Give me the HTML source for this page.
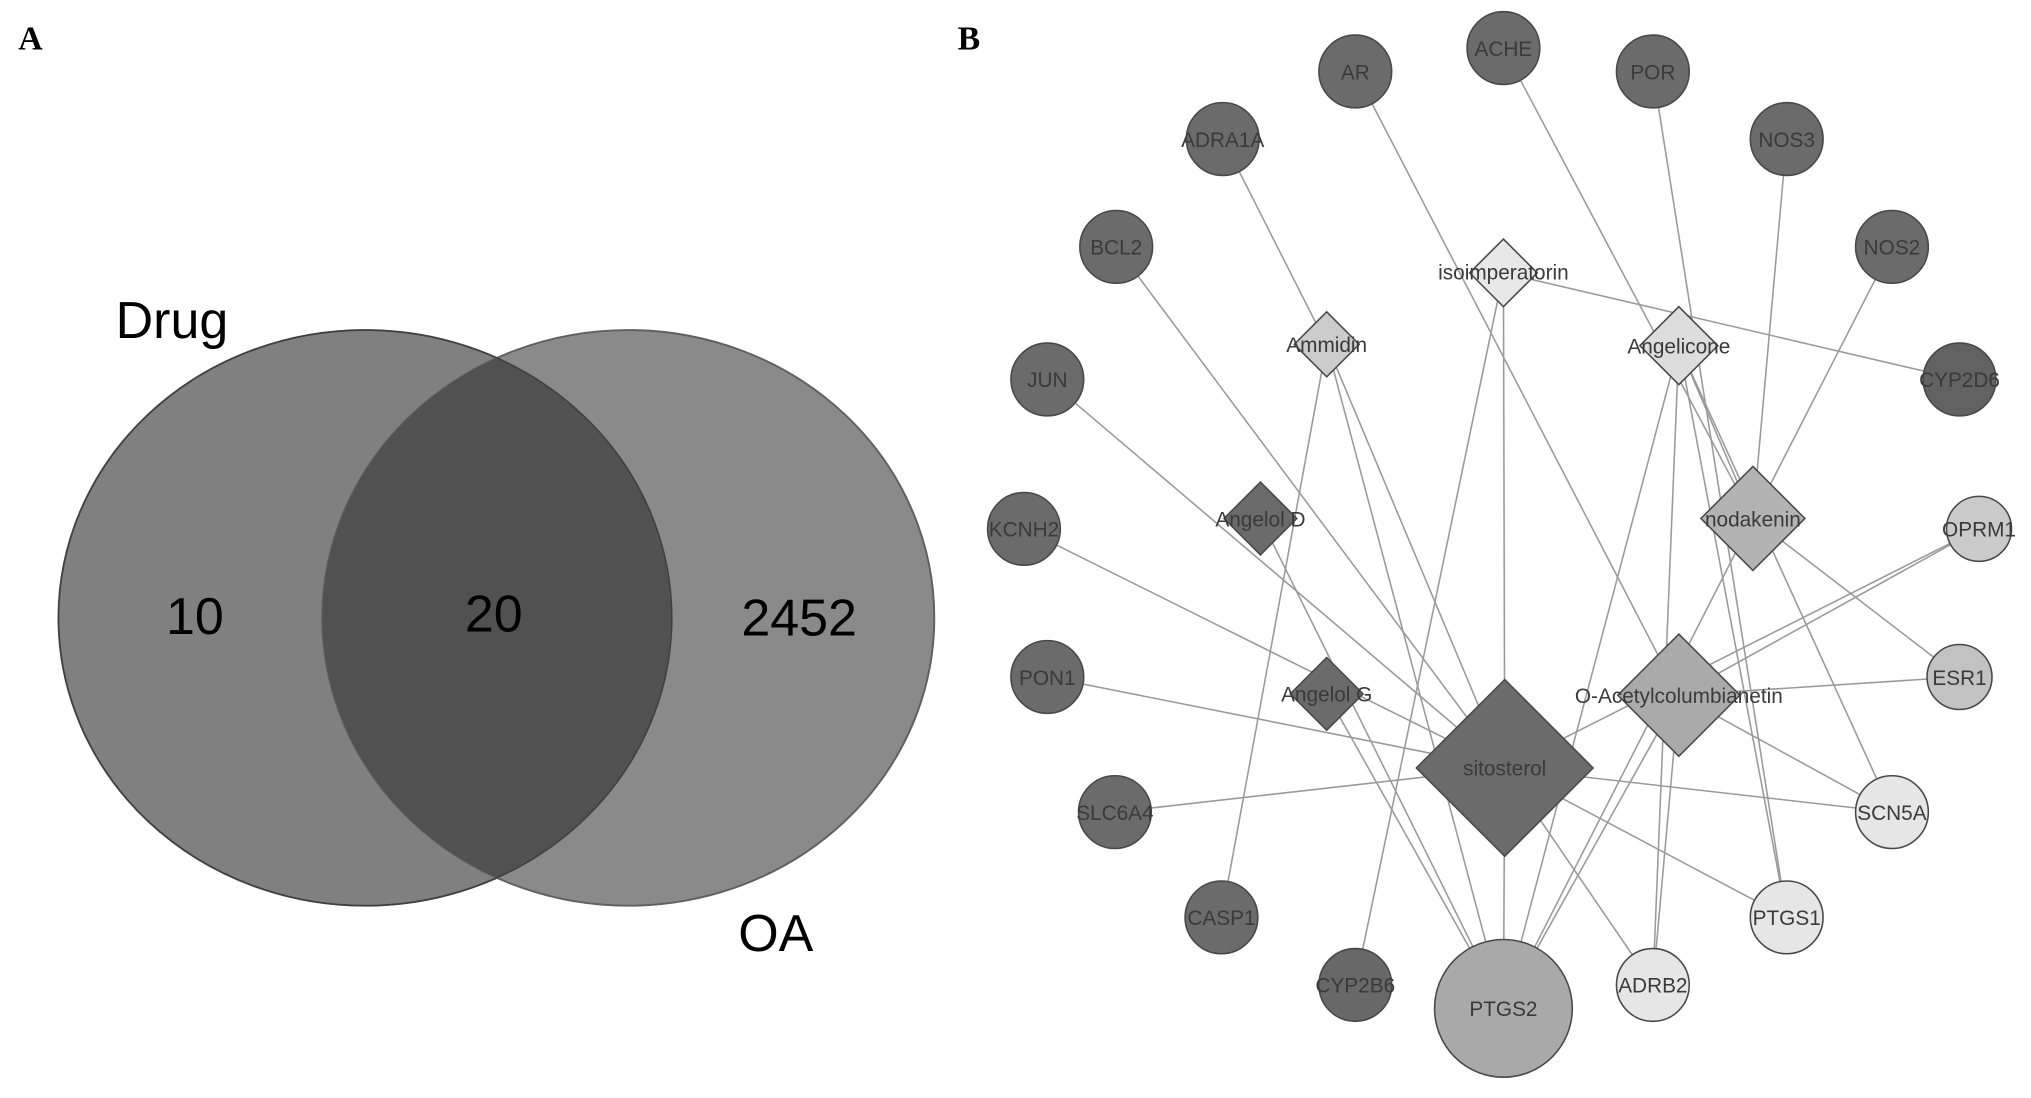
<!DOCTYPE html>
<html><head><meta charset="utf-8"><style>html,body{margin:0;padding:0;background:#fff}svg{display:block}</style></head>
<body>
<svg width="2031" height="1098" viewBox="0 0 1563 845" xmlns="http://www.w3.org/2000/svg">
<defs>
<clipPath id="cl"><ellipse cx="281" cy="475.5" rx="236" ry="221.5"/></clipPath>
</defs>
<text x="14" y="38" font-family="Liberation Serif, serif" font-weight="bold" font-size="26">A</text>
<text x="737" y="38" font-family="Liberation Serif, serif" font-weight="bold" font-size="26">B</text>
<ellipse cx="281" cy="475.5" rx="236" ry="221.5" fill="#808080" stroke="#606060" stroke-width="1.5"/>
<ellipse cx="483.5" cy="475.5" rx="235.5" ry="221.5" fill="#8a8a8a" stroke="#606060" stroke-width="1.5"/>
<ellipse cx="483.5" cy="475.5" rx="235.5" ry="221.5" fill="#515151" clip-path="url(#cl)"/>
<ellipse cx="281" cy="475.5" rx="236" ry="221.5" fill="none" stroke="#404040" stroke-width="1.2"/>
<g font-family="Liberation Sans, sans-serif" font-size="40" fill="#000">
<text x="89" y="260">Drug</text>
<text x="150" y="488" text-anchor="middle">10</text>
<text x="380" y="486" text-anchor="middle">20</text>
<text x="615" y="489" text-anchor="middle">2452</text>
<text x="597" y="732" text-anchor="middle">OA</text>
</g>
<g stroke="#9a9a9a" stroke-width="1.2">
<line x1="941" y1="107" x2="1021" y2="265"/>
<line x1="1043" y1="55" x2="1292" y2="535"/>
<line x1="1157" y1="37" x2="1349" y2="399"/>
<line x1="1272" y1="55" x2="1375" y2="706"/>
<line x1="1375" y1="107" x2="1349" y2="399"/>
<line x1="1456" y1="190" x2="1349" y2="399"/>
<line x1="1508" y1="292" x2="1157" y2="210"/>
<line x1="859" y1="190" x2="1158" y2="591"/>
<line x1="806" y1="292" x2="1158" y2="591"/>
<line x1="788" y1="407" x2="1158" y2="591"/>
<line x1="806" y1="521" x2="1158" y2="591"/>
<line x1="858" y1="625" x2="1158" y2="591"/>
<line x1="940" y1="706" x2="1021" y2="265"/>
<line x1="1043" y1="758" x2="1157" y2="210"/>
<line x1="1157" y1="776" x2="1158" y2="591"/>
<line x1="1157" y1="776" x2="1021" y2="265"/>
<line x1="1157" y1="776" x2="970" y2="399"/>
<line x1="1157" y1="776" x2="1021" y2="534"/>
<line x1="1157" y1="776" x2="1292" y2="266"/>
<line x1="1157" y1="776" x2="1349" y2="399"/>
<line x1="1157" y1="776" x2="1292" y2="535"/>
<line x1="1523" y1="407" x2="1292" y2="535"/>
<line x1="1523" y1="407" x2="1158" y2="591"/>
<line x1="1508" y1="521" x2="1349" y2="399"/>
<line x1="1508" y1="521" x2="1292" y2="535"/>
<line x1="1456" y1="625" x2="1158" y2="591"/>
<line x1="1456" y1="625" x2="1292" y2="266"/>
<line x1="1456" y1="625" x2="1292" y2="535"/>
<line x1="1375" y1="706" x2="1158" y2="591"/>
<line x1="1375" y1="706" x2="1292" y2="266"/>
<line x1="1272" y1="758" x2="1158" y2="591"/>
<line x1="1272" y1="758" x2="1292" y2="266"/>
<line x1="1272" y1="758" x2="1292" y2="535"/>
<line x1="1157" y1="210" x2="1158" y2="591"/>
<line x1="1021" y1="265" x2="1158" y2="591"/>
<line x1="1292" y1="266" x2="1349" y2="399"/>
</g>
<g stroke="#484848" stroke-width="1.2">
<circle cx="1043" cy="55" r="28" fill="#6b6b6b"/>
<circle cx="1157" cy="37" r="28" fill="#6b6b6b"/>
<circle cx="1272" cy="55" r="28" fill="#6b6b6b"/>
<circle cx="941" cy="107" r="28" fill="#6b6b6b"/>
<circle cx="1375" cy="107" r="28" fill="#6b6b6b"/>
<circle cx="859" cy="190" r="28" fill="#6b6b6b"/>
<circle cx="1456" cy="190" r="28" fill="#6b6b6b"/>
<circle cx="806" cy="292" r="28" fill="#6b6b6b"/>
<circle cx="1508" cy="292" r="28" fill="#626262"/>
<circle cx="788" cy="407" r="28" fill="#6b6b6b"/>
<circle cx="1523" cy="407" r="25" fill="#cacaca"/>
<circle cx="806" cy="521" r="28" fill="#6b6b6b"/>
<circle cx="1508" cy="521" r="25" fill="#c2c2c2"/>
<circle cx="858" cy="625" r="28" fill="#6b6b6b"/>
<circle cx="1456" cy="625" r="28" fill="#e6e6e6"/>
<circle cx="940" cy="706" r="28" fill="#6b6b6b"/>
<circle cx="1375" cy="706" r="28" fill="#e6e6e6"/>
<circle cx="1043" cy="758" r="28" fill="#686868"/>
<circle cx="1272" cy="758" r="28" fill="#e6e6e6"/>
<circle cx="1157" cy="776" r="53" fill="#a9a9a9"/>
<polygon points="1157,184 1183,210 1157,236 1131,210" fill="#e8e8e8"/>
<polygon points="1021,240 1046,265 1021,290 996,265" fill="#cccccc"/>
<polygon points="1292,236 1322,266 1292,296 1262,266" fill="#dddddd"/>
<polygon points="970,371 998,399 970,427 942,399" fill="#6b6b6b"/>
<polygon points="1349,359 1389,399 1349,439 1309,399" fill="#b3b3b3"/>
<polygon points="1021,506 1049,534 1021,562 993,534" fill="#6b6b6b"/>
<polygon points="1292,488 1339,535 1292,582 1245,535" fill="#aaaaaa"/>
<polygon points="1158,523 1226,591 1158,659 1090,591" fill="#6b6b6b"/>
</g>
<g font-family="Liberation Sans, sans-serif" font-size="16" fill="#3a3a3a" text-anchor="middle">
<text x="1043" y="61">AR</text>
<text x="1157" y="43">ACHE</text>
<text x="1272" y="61">POR</text>
<text x="941" y="113">ADRA1A</text>
<text x="1375" y="113">NOS3</text>
<text x="859" y="196">BCL2</text>
<text x="1456" y="196">NOS2</text>
<text x="806" y="298">JUN</text>
<text x="1508" y="298">CYP2D6</text>
<text x="788" y="413">KCNH2</text>
<text x="1523" y="413">OPRM1</text>
<text x="806" y="527">PON1</text>
<text x="1508" y="527">ESR1</text>
<text x="858" y="631">SLC6A4</text>
<text x="1456" y="631">SCN5A</text>
<text x="940" y="712">CASP1</text>
<text x="1375" y="712">PTGS1</text>
<text x="1043" y="764">CYP2B6</text>
<text x="1272" y="764">ADRB2</text>
<text x="1157" y="782">PTGS2</text>
<text x="1157" y="215">isoimperatorin</text>
<text x="1021" y="271">Ammidin</text>
<text x="1292" y="272">Angelicone</text>
<text x="970" y="405">Angelol D</text>
<text x="1349" y="405">nodakenin</text>
<text x="1021" y="540">Angelol G</text>
<text x="1292" y="541">O-Acetylcolumbianetin</text>
<text x="1158" y="597">sitosterol</text>
</g>
</svg>
</body></html>
